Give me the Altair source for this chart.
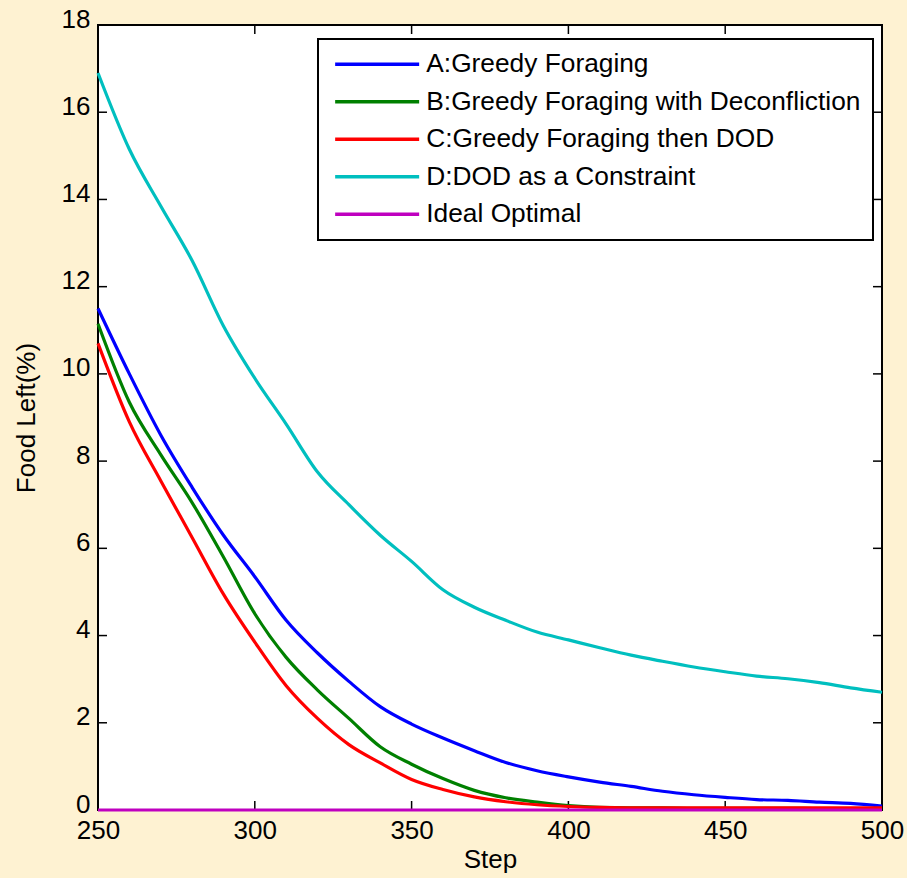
import altair as alt
import pandas as pd

# Simulation step at which each reading was taken
steps = [250, 260, 270, 280, 290, 300, 310, 320, 330, 340, 350, 360, 370,
         380, 390, 400, 410, 420, 430, 440, 450, 460, 470, 480, 490, 500]

# Food left (%) for each strategy
greedy = [11.5, 10.0, 8.6, 7.4, 6.3, 5.35, 4.35, 3.6, 2.95, 2.37, 1.97, 1.65, 1.36,
          1.09, 0.9, 0.76, 0.64, 0.54, 0.43, 0.35, 0.29, 0.24, 0.22, 0.18, 0.15, 0.09]
deconfliction = [11.15, 9.35, 8.15, 7.05, 5.8, 4.5, 3.5, 2.75, 2.1, 1.45, 1.05, 0.72, 0.45,
                 0.28, 0.18, 0.1, 0.06, 0.05, 0.05, 0.04, 0.04, 0.04, 0.04, 0.03, 0.03, 0.03]
then_dod = [10.7, 8.9, 7.55, 6.25, 4.95, 3.85, 2.85, 2.1, 1.5, 1.08, 0.7, 0.47, 0.3,
            0.19, 0.12, 0.08, 0.06, 0.05, 0.05, 0.05, 0.05, 0.05, 0.05, 0.05, 0.05, 0.05]
dod_constraint = [16.9, 15.15, 13.85, 12.6, 11.1, 9.9, 8.85, 7.75, 7.0, 6.3, 5.7, 5.05, 4.65,
                  4.35, 4.08, 3.9, 3.72, 3.55, 3.41, 3.28, 3.17, 3.07, 3.01, 2.92, 2.8, 2.7]
ideal = [0, 0, 0, 0, 0, 0, 0, 0, 0, 0, 0, 0, 0,
         0, 0, 0, 0, 0, 0, 0, 0, 0, 0, 0, 0, 0]

series_names = [
    "A:Greedy Foraging",
    "B:Greedy Foraging with Deconfliction",
    "C:Greedy Foraging then DOD",
    "D:DOD as a Constraint",
    "Ideal Optimal",
]
series_colors = ["#0000FF", "#008000", "#FF0000", "#00BFBF", "#BF00BF"]
series_values = [greedy, deconfliction, then_dod, dod_constraint, ideal]

y_ticks = [0, 2, 4, 6, 8, 10, 12, 14, 16, 18]
x_ticks = [250, 300, 350, 400, 450, 500]

rows = []
for order, (name, vals) in enumerate(zip(series_names, series_values)):
    for s, v in zip(steps, vals):
        rows.append({"step": s, "food": v, "series": name, "order": order})
df = pd.DataFrame(rows)

W, H = 784, 785
FONT = "Liberation Sans"
TICK = 9

x_enc = alt.X(
    "step:Q",
    scale=alt.Scale(domain=[250, 500], nice=False, zero=False),
    axis=alt.Axis(values=x_ticks, title="Step", ticks=False, domain=False, grid=False,
                  labelPadding=7, titlePadding=3, labelFontSize=26, titleFontSize=26,
                  titleFontWeight="normal", labelFont=FONT, titleFont=FONT,
                  labelColor="black", titleColor="black", labelFlush=False),
)
y_enc = alt.Y(
    "food:Q",
    scale=alt.Scale(domain=[0, 18], nice=False),
    axis=alt.Axis(values=y_ticks, title="Food Left(%)", ticks=False, domain=False, grid=False,
                  labelPadding=8, labelOffset=-6, titlePadding=22, labelFontSize=26,
                  titleFontSize=26, titleFontWeight="normal", labelFont=FONT, titleFont=FONT,
                  labelColor="black", titleColor="black", labelFlush=False),
)

ytick_df = pd.DataFrame({"food": y_ticks})
xtick_df = pd.DataFrame({"step": x_ticks})

# Inward ticks on all four sides of the box
left_ticks = alt.Chart(ytick_df).mark_rule(color="black", strokeWidth=1.5).encode(
    y=y_enc, x=alt.value(0), x2=alt.value(TICK))
right_ticks = alt.Chart(ytick_df).mark_rule(color="black", strokeWidth=1.5).encode(
    y=y_enc, x=alt.value(W - TICK), x2=alt.value(W))
bottom_ticks = alt.Chart(xtick_df).mark_rule(color="black", strokeWidth=1.5).encode(
    x=x_enc, y=alt.value(H - TICK), y2=alt.value(H))
top_ticks = alt.Chart(xtick_df).mark_rule(color="black", strokeWidth=1.5).encode(
    x=x_enc, y=alt.value(0), y2=alt.value(TICK))

lines = alt.Chart(df).mark_line(strokeWidth=3.2, clip=False, interpolate="monotone").encode(
    x=x_enc,
    y=y_enc,
    order="order:Q",
    color=alt.Color(
        "series:N",
        scale=alt.Scale(domain=series_names, range=series_colors),
        legend=alt.Legend(title=None),
    ),
)

chart = alt.layer(left_ticks, right_ticks, bottom_ticks, top_ticks, lines).properties(
    width=W,
    height=H,
    autosize=alt.AutoSizeParams(type="none"),
    padding={"left": 98, "top": 25, "right": 25, "bottom": 68},
).configure(
    background="#FEF2D2",
).configure_view(
    fill="white", stroke="black", strokeWidth=2,
).configure_legend(
    orient="none",
    legendX=220,
    legendY=14,
    strokeColor="black",
    strokeWidth=2,
    fillColor="white",
    padding=12,
    # long horizontal swatch, drawn to the right of the symbol anchor
    symbolType="M-0.8,0H7.6",
    symbolSize=400,
    symbolStrokeWidth=3.5,
    symbolOffset=0,
    labelOffset=70,
    labelFont=FONT,
    labelFontSize=26.3,
    labelColor="black",
    labelLimit=1000,
    rowPadding=10.5,
)

chart.save("out.html", embed_options={"renderer": "svg", "actions": False})
